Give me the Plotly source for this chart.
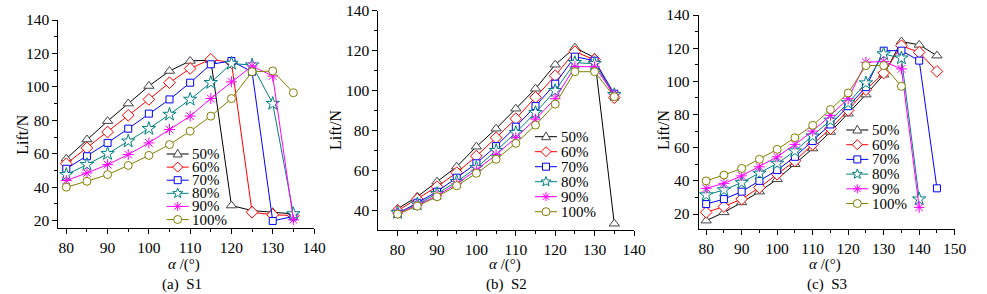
import math
import plotly.graph_objects as go

# ---------------- data ----------------
series_names = ["50%", "60%", "70%", "80%", "90%", "100%"]

angle_s1 = [80, 85, 90, 95, 100, 105, 110, 115, 120, 125, 130, 135]
lift_s1_50 = [57, 68.5, 79.5, 90, 100.5, 109.5, 115.5, 116, 29, 26, 25, 24]
lift_s1_60 = [54, 63.5, 73, 83, 92.5, 102.5, 111, 116.5, 114.5, 25, 23.5, 23]
lift_s1_70 = [51, 58.5, 66.5, 75, 84, 92.5, 102.5, 113.5, 115.5, 109, 19.8, 22.5]
lift_s1_80 = [47.5, 53.5, 60, 67.5, 75, 83.5, 92.5, 102.5, 114, 113, 90, 24]
lift_s1_90 = [44, 48.5, 53.5, 59.5, 66.5, 74.5, 82.5, 93, 103, 112.5, 106.5, 20.5]
lift_s1_100 = [40, 43.5, 47.5, 53, 59, 65.5, 73.5, 82.5, 93, 109, 109.5, 96.5]

angle_s2 = [80, 85, 90, 95, 100, 105, 110, 115, 120, 125, 130, 135]
lift_s2_50 = [41, 47, 54.5, 62, 72, 81, 91, 101, 113, 121.5, 116.5, 33.5]
lift_s2_60 = [40, 45.8, 52, 59, 67.3, 76.5, 86, 96.7, 107.5, 119.5, 115.5, 96.5]
lift_s2_70 = [38.5, 44, 49.5, 56.5, 63.7, 72.3, 82, 92.3, 103.5, 117, 115, 98.5]
lift_s2_80 = [39, 43.3, 48.5, 54.5, 61.5, 70, 79, 89, 100, 114, 113.5, 98]
lift_s2_90 = [38.7, 42.8, 47.5, 53.5, 60.3, 68, 76.5, 85.8, 96, 112, 112, 98]
lift_s2_100 = [38.3, 42.3, 47, 52.5, 58.7, 65.7, 73.7, 82.8, 93.3, 109.5, 109.5, 97]

angle_s3 = [80, 85, 90, 95, 100, 105, 110, 115, 120, 125, 130, 135, 140, 145]
lift_s3_50 = [16, 21, 27, 33.5, 41, 50, 59.5, 69.5, 80.5, 92, 104, 124, 122, 115.5]
lift_s3_60 = [21, 24.5, 29, 36, 44, 52, 62, 71.5, 82.5, 95, 105, 121.5, 117.5, 106]
lift_s3_70 = [26, 29, 33.5, 40, 46.5, 54.5, 64, 74, 85, 96.5, 118.5, 118.5, 112.5, 35.5]
lift_s3_80 = [31.5, 34.5, 39, 44.5, 50.5, 58, 67, 76.5, 87, 99, 116.5, 114, 29]
lift_s3_90 = [35.5, 38.5, 43, 48.5, 54.5, 62, 70, 79.5, 89.5, 111.5, 112, 107.5, 24]
lift_s3_100 = [40, 43.5, 47.5, 53, 59, 66, 73.5, 83, 93, 109.5, 109.5, 97]

captions = ["(a)\u00a0\u00a0S1", "(b)\u00a0\u00a0S2", "(c)\u00a0\u00a0S3"]
x_title = "<i>α</i> /(°)"
y_title = "Lift/N"

panels = [
    (angle_s1, [lift_s1_50, lift_s1_60, lift_s1_70, lift_s1_80, lift_s1_90, lift_s1_100]),
    (angle_s2, [lift_s2_50, lift_s2_60, lift_s2_70, lift_s2_80, lift_s2_90, lift_s2_100]),
    (angle_s3, [lift_s3_50, lift_s3_60, lift_s3_70, lift_s3_80, lift_s3_90, lift_s3_100]),
]

# ---------------- style ----------------
W, H = 987, 294
FONT = "'Liberation Serif', 'Times New Roman', serif"
line_colors = ["#000000", "#FF0000", "#0000FF", "#008080", "#FF00FF", "#808000"]
marker_colors = ["#444444", "#FF0000", "#0000FF", "#008080", "#FF00FF", "#808000"]
symbols = ["triangle-up", "diamond", "square", "star", "asterisk-open", "circle"]
msizes = [9, 9, 7, 10, 9, 8]

def fx(px):
    return px / W

def fy(py):
    return 1 - py / H

boxes = [
    dict(xd=(58.3, 314), yd=(20, 228.3), xr=[78.06, 140], yr=[15.4, 140]),
    dict(xd=(378.3, 634), yd=(10.7, 230), xr=[75.1, 140], yr=[30.35, 140]),
    dict(xd=(698.7, 954.7), yd=(15, 229.3), xr=[77.9, 150], yr=[10.8, 140]),
]

fig = go.Figure()

for p, (xs, ys_list) in enumerate(panels):
    xa = "x" if p == 0 else f"x{p+1}"
    ya = "y" if p == 0 else f"y{p+1}"
    for i, ys in enumerate(ys_list):
        n = len(ys)
        fill = marker_colors[i] if symbols[i].endswith("open") else "white"
        fig.add_trace(go.Scatter(
            x=xs[:n], y=ys, name=series_names[i], mode="lines+markers",
            xaxis=xa, yaxis=ya, showlegend=False, cliponaxis=False,
            line=dict(color=line_colors[i], width=1),
            marker=dict(symbol=symbols[i], size=msizes[i], color=fill,
                        line=dict(color=marker_colors[i], width=1)),
        ))

axis_common = dict(
    showgrid=False, zeroline=False, showline=True, linecolor="black", linewidth=1,
    ticks="outside", ticklen=5, tickwidth=1, tickcolor="black",
    tickfont=dict(family=FONT, size=15.5, color="black"), mirror=False, automargin=False,
)

layout = dict(
    width=W, height=H, autosize=False, margin=dict(l=0, r=0, t=0, b=0, pad=0, autoexpand=False),
    paper_bgcolor="white", plot_bgcolor="white", showlegend=False,
    font=dict(family=FONT, size=16, color="black"),
)
for p, b in enumerate(boxes):
    xk = "xaxis" if p == 0 else f"xaxis{p+1}"
    yk = "yaxis" if p == 0 else f"yaxis{p+1}"
    ya = "y" if p == 0 else f"y{p+1}"
    xa = "x" if p == 0 else f"x{p+1}"
    layout[xk] = dict(axis_common, domain=[fx(b["xd"][0]), fx(b["xd"][1])], range=b["xr"],
                      dtick=10, tick0=0, anchor=ya,
                      minor=dict(dtick=5, ticklen=3, ticks="outside", tickcolor="black"))
    layout[yk] = dict(axis_common, domain=[fy(b["yd"][1]), fy(b["yd"][0])], range=b["yr"],
                      dtick=20, tick0=0, anchor=xa,
                      minor=dict(dtick=10, ticklen=3, ticks="outside", tickcolor="black"))
fig.update_layout(**layout)

# ---------------- titles / captions ----------------
ann = []
ytitle_x = [21.7, 335, 663]
ytitle_y = [135, 130, 130]
xtitle_x = [184, 505, 825]
cap_x = [182, 506, 827]
for p in range(3):
    ann.append(dict(text=y_title, x=fx(ytitle_x[p]), y=fy(ytitle_y[p]), xref="paper", yref="paper",
                    textangle=-90, showarrow=False, xanchor="center", yanchor="middle",
                    font=dict(family=FONT, size=16, color="black")))
    ann.append(dict(text=x_title, x=fx(xtitle_x[p]), y=fy(264.5), xref="paper", yref="paper",
                    showarrow=False, xanchor="center", yanchor="middle",
                    font=dict(family=FONT, size=15, color="black")))
    ann.append(dict(text=captions[p], x=fx(cap_x[p]), y=fy(284), xref="paper", yref="paper",
                    showarrow=False, xanchor="center", yanchor="middle",
                    font=dict(family=FONT, size=15, color="black")))

# ---------------- custom legends ----------------
star_pts = []
for k in range(10):
    r = 5.2 if k % 2 == 0 else 2.2
    a = math.pi / 2 + k * math.pi / 5
    star_pts.append((r * math.cos(a), r * math.sin(a)))
star_path = "M" + "L".join(f"{x:.2f},{y:.2f}" for x, y in star_pts) + "Z"
marker_paths = [
    "M-4.5,-3L4.5,-3L0,4.8Z",
    "M0,5L5,0L0,-5L-5,0Z",
    None,
    star_path,
    "M-4.5,0H4.5M0,-4.5V4.5M-3.2,-3.2L3.2,3.2M-3.2,3.2L3.2,-3.2",
    None,
]

legends = [
    dict(x0=166.7, y0=154, dy=13.1),
    dict(x0=535, y0=136.7, dy=15),
    dict(x0=846.3, y0=130, dy=14.7),
]
shapes = []
LLEN = 22
for lg in legends:
    for i, name in enumerate(series_names):
        yy = lg["y0"] + i * lg["dy"]
        shapes.append(dict(type="line", xref="paper", yref="paper",
                           x0=fx(lg["x0"]), x1=fx(lg["x0"] + LLEN), y0=fy(yy), y1=fy(yy),
                           line=dict(color=line_colors[i], width=1)))
        cx, cy = fx(lg["x0"] + LLEN / 2), fy(yy)
        base = dict(xref="paper", yref="paper", xsizemode="pixel", ysizemode="pixel",
                    xanchor=cx, yanchor=cy, line=dict(color=marker_colors[i], width=1))
        if i == 2:
            shapes.append(dict(base, type="rect", x0=-3.5, x1=3.5, y0=-3.5, y1=3.5, fillcolor="white"))
        elif i == 5:
            shapes.append(dict(base, type="circle", x0=-4, x1=4, y0=-4, y1=4, fillcolor="white"))
        elif i == 4:
            shapes.append(dict(base, type="path", path=marker_paths[i]))
        else:
            shapes.append(dict(base, type="path", path=marker_paths[i], fillcolor="white"))
        ann.append(dict(text=name, x=fx(lg["x0"] + LLEN + 1.5), y=fy(yy), xref="paper", yref="paper",
                        showarrow=False, xanchor="left", yanchor="middle",
                        font=dict(family=FONT, size=15, color="black")))

fig.update_layout(annotations=ann, shapes=shapes)
fig.write_html("out.html", config={"responsive": False, "displayModeBar": False},
               post_script="document.body.style.margin='0';document.body.style.overflow='hidden';")
